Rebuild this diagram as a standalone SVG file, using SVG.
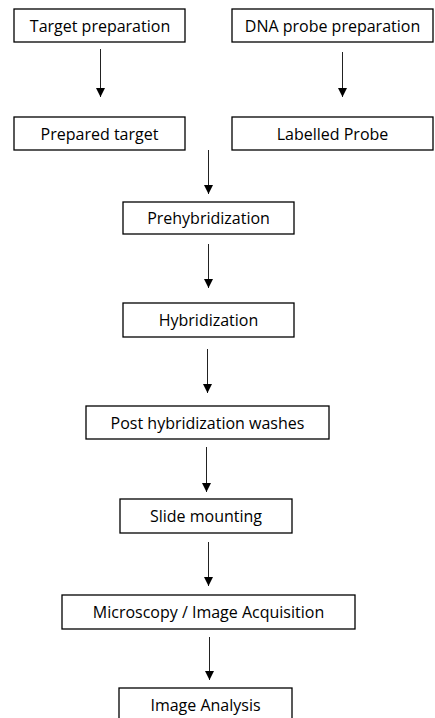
<svg xmlns="http://www.w3.org/2000/svg" width="435" height="718" viewBox="0 0 435 718">
<style>
.box{fill:#fff;stroke:#000;stroke-width:1.3}
.lbl{font-family:"Open Sans","Liberation Sans",sans-serif;font-size:16px;fill:#000;text-anchor:middle}
.con{stroke:#222;stroke-width:1;fill:none;marker-end:url(#ah)}
</style>
<defs>
<marker id="ah" viewBox="0 0 10 10" refX="10" refY="5" markerWidth="9" markerHeight="10" markerUnits="userSpaceOnUse" orient="auto">
<path d="M0,0 L10,5 L0,10 z" fill="#000"/>
</marker>
</defs>
<rect width="435" height="718" fill="#fff"/>
<g id="connectors">
<line class="con" x1="100.5" y1="49" x2="100.5" y2="97"/>
<line class="con" x1="342.5" y1="52" x2="342.5" y2="97"/>
<line class="con" x1="208.5" y1="150" x2="208.5" y2="194"/>
<line class="con" x1="208.5" y1="244" x2="208.5" y2="288"/>
<line class="con" x1="207.5" y1="349" x2="207.5" y2="393"/>
<line class="con" x1="206.5" y1="447" x2="206.5" y2="492"/>
<line class="con" x1="208.5" y1="542" x2="208.5" y2="586"/>
<line class="con" x1="209.5" y1="637" x2="209.5" y2="680"/>
</g>
<g id="n1"><rect class="box" x="14" y="9" width="171" height="33"/><text class="lbl" x="100" y="31.5">Target preparation</text></g>
<g id="n2"><rect class="box" x="232" y="9" width="201" height="33"/><text class="lbl" x="332.5" y="31.5">DNA probe preparation</text></g>
<g id="n3"><rect class="box" x="14" y="117" width="171" height="33"/><text class="lbl" x="99.5" y="139.5">Prepared target</text></g>
<g id="n4"><rect class="box" x="232" y="117" width="201" height="33"/><text class="lbl" x="332.5" y="139.5">Labelled Probe</text></g>
<g id="n5"><rect class="box" x="123" y="202" width="171" height="32"/><text class="lbl" x="208.5" y="224">Prehybridization</text></g>
<g id="n6"><rect class="box" x="123" y="303" width="171" height="34"/><text class="lbl" x="208.5" y="325.5">Hybridization</text></g>
<g id="n7"><rect class="box" x="86" y="406" width="243" height="33"/><text class="lbl" x="207.5" y="428.5">Post hybridization washes</text></g>
<g id="n8"><rect class="box" x="120" y="499" width="172" height="34"/><text class="lbl" x="206" y="521.5">Slide mounting</text></g>
<g id="n9"><rect class="box" x="62" y="595" width="293" height="34"/><text class="lbl" x="208.5" y="617.5">Microscopy / Image Acquisition</text></g>
<g id="n10"><rect class="box" x="119" y="688" width="173" height="40"/><text class="lbl" x="205.5" y="710.5">Image Analysis</text></g>
</svg>
